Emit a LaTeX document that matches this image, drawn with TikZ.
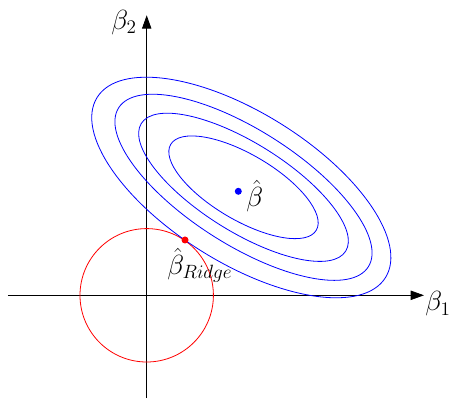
\documentclass[tikz,border=0pt]{standalone}
\usetikzlibrary{arrows.meta}
\begin{document}
\begin{tikzpicture}[x=0.75pt,y=0.75pt,
  axis/.style={line width=0.6pt,-{Triangle[length=10pt,width=7pt]}},
  contour/.style={blue,line width=0.6pt},
  ball/.style={red,line width=0.6pt},
  lbl/.style={font=\fontsize{20}{24}\selectfont,inner sep=0pt}]
\useasboundingbox (-146.7,-106.7) rectangle (305.3,295.3);
% axes
\coordinate (O) at (0,0);
\coordinate (xs) at (-138.7,0);
\coordinate (xe) at (277.3,0);
\coordinate (ys) at (0,-102.7);
\coordinate (ye) at (0,280);
\draw[axis] (xs) -- (xe);
\draw[axis] (ys) -- (ye);
\node[lbl] (b1) at (291.3,-8.7) {$\beta_1$};
\node[lbl] (b2) at (-22.7,273) {$\beta_2$};
% constraint circle
\draw[ball] (O) circle [radius=66.7];
% contours
\coordinate (C) at (96.8,108);
\coordinate (C4) at (94.6,107.8);
\draw[contour,rotate around={-32:(C4)}] (C4) ellipse [x radius=170, y radius=75];
\draw[contour,rotate around={-32.5:(C)}] (C) ellipse [x radius=148, y radius=57.3];
\draw[contour,rotate around={-32:(C)}] (C) ellipse [x radius=120.5, y radius=44.3];
\draw[contour,rotate around={-30.5:(C)}] (C) ellipse [x radius=84.5, y radius=32.8];
% points
\coordinate (bhat) at (91.6,104);
\coordinate (bridge) at (38.3,55.3);
\fill[blue] (bhat) circle [radius=3.5];
\fill[red] (bridge) circle [radius=3.5];
\node[lbl,anchor=west] (lh) at (99.3,99) {$\hat\beta$};
\node[lbl,anchor=west] (lr) at (20.3,30) {$\hat\beta_{Ridge}$};
\end{tikzpicture}
\end{document}
